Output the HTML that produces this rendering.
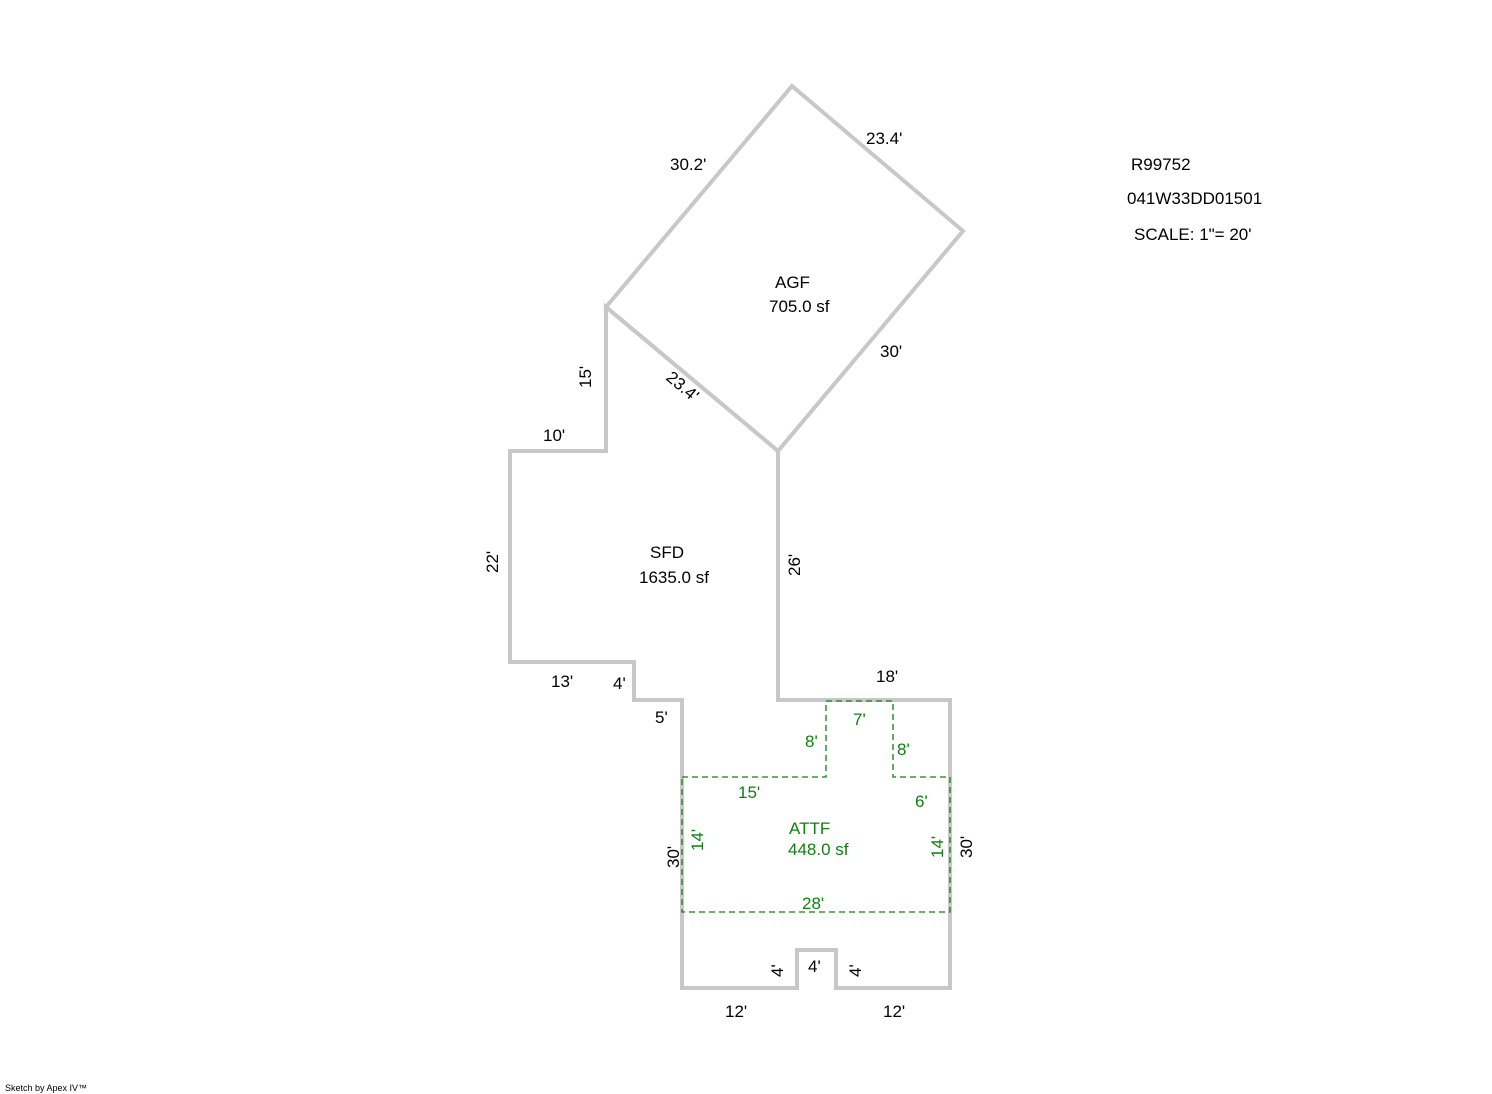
<!DOCTYPE html>
<html><head><style>html,body{margin:0;padding:0;background:#fff}svg{display:block}</style></head>
<body>
<svg width="1492" height="1094" xmlns="http://www.w3.org/2000/svg" font-family="Liberation Sans, Arial, sans-serif" font-size="17">
<g fill="none" stroke="#c8c8c8" stroke-width="4" stroke-linejoin="miter">
<polygon points="606,307 792,86 963,231 778,451"/>
<polygon points="606,307 606,451 510,451 510,662 634,662 634,700 682,700 682,988 797,988 797,950 836,950 836,988 950,988 950,700 778,700 778,451"/>
</g>
<polyline points="682,777 826,777 826,701 893,701 893,777 950,777 950,912 682,912 682,777" fill="none" stroke="#108010" stroke-width="1.3" stroke-dasharray="6,4"/>
<g fill="#000">
<text x="670" y="170">30.2'</text>
<text x="866" y="144">23.4'</text>
<text x="775" y="288">AGF</text>
<text x="769" y="312">705.0 sf</text>
<text x="880" y="357">30'</text>
<text transform="translate(665,379) rotate(40)">23.4'</text>
<text transform="translate(591,388) rotate(-90)">15'</text>
<text x="543" y="441">10'</text>
<text transform="translate(498,573) rotate(-90)">22'</text>
<text x="650" y="558">SFD</text>
<text x="639" y="583">1635.0 sf</text>
<text transform="translate(800,576) rotate(-90)">26'</text>
<text x="551" y="687">13'</text>
<text x="613" y="689">4'</text>
<text x="655" y="723">5'</text>
<text x="876" y="682">18'</text>
<text transform="translate(679,868) rotate(-90)">30'</text>
<text transform="translate(972,858) rotate(-90)">30'</text>
<text transform="translate(783,977) rotate(-90)">4'</text>
<text x="808" y="972">4'</text>
<text transform="translate(861,977) rotate(-90)">4'</text>
<text x="725" y="1017">12'</text>
<text x="883" y="1017">12'</text>
<text x="1131" y="170">R99752</text>
<text x="1127" y="204">041W33DD01501</text>
<text x="1134" y="240">SCALE: 1"= 20'</text>
<text x="5" y="1091" font-size="9">Sketch by Apex IV™</text>
</g>
<g fill="#108010">
<text x="853" y="725">7'</text>
<text x="805" y="747">8'</text>
<text x="897" y="755">8'</text>
<text x="738" y="798">15'</text>
<text x="915" y="807">6'</text>
<text x="789" y="834">ATTF</text>
<text x="788" y="855">448.0 sf</text>
<text transform="translate(703,851) rotate(-90)">14'</text>
<text transform="translate(943,858) rotate(-90)">14'</text>
<text x="802" y="909">28'</text>
</g>
</svg>
</body></html>
